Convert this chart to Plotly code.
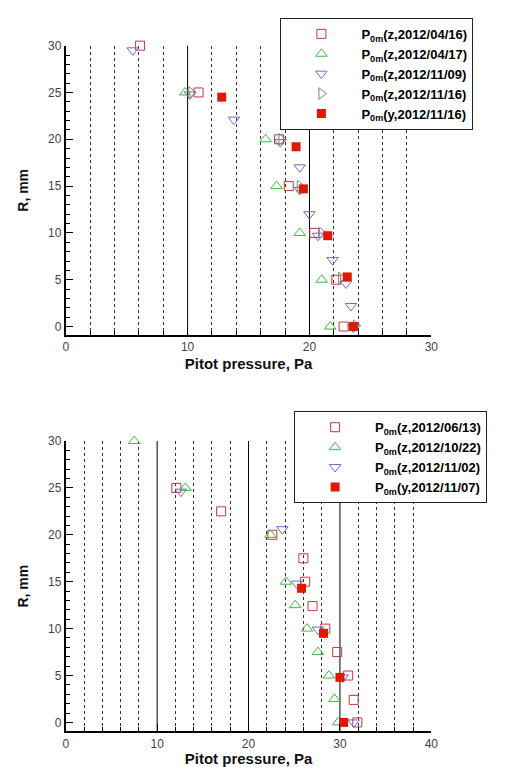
import plotly.graph_objects as go

# ---- Upper panel: x = Pitot pressure (Pa), y = R (mm) ----
a_labels = [
    "P<sub>0m</sub>(z,2012/04/16)",
    "P<sub>0m</sub>(z,2012/04/17)",
    "P<sub>0m</sub>(z,2012/11/09)",
    "P<sub>0m</sub>(z,2012/11/16)",
    "P<sub>0m</sub>(y,2012/11/16)",
]
a1_p = [6.1, 10.9, 17.5, 18.3, 20.4, 22.2, 22.8]
a1_r = [30.0, 25.0, 20.0, 15.0, 10.0, 5.0, 0.0]
a2_p = [9.8, 16.4, 17.3, 19.2, 21.0, 21.7]
a2_r = [25.0, 20.0, 15.0, 10.0, 5.0, 0.0]
a3_p = [5.5, 10.2, 13.8, 17.6, 19.2, 19.2, 20.0, 20.7, 21.9, 23.0, 23.4, 23.6]
a3_r = [29.5, 24.8, 22.1, 19.7, 17.0, 14.6, 12.0, 9.7, 7.1, 4.6, 2.2, -0.1]
a4_p = [10.3, 17.7, 19.2, 21.0, 22.6, 23.8]
a4_r = [25.0, 20.0, 15.0, 10.0, 5.2, 0.1]
a5_p = [12.8, 18.9, 19.5, 21.5, 23.1, 23.6]
a5_r = [24.5, 19.2, 14.7, 9.7, 5.3, 0.0]

# ---- Lower panel ----
b_labels = [
    "P<sub>0m</sub>(z,2012/06/13)",
    "P<sub>0m</sub>(z,2012/10/22)",
    "P<sub>0m</sub>(z,2012/11/02)",
    "P<sub>0m</sub>(y,2012/11/07)",
]
b1_p = [12.1, 17.0, 22.6, 26.0, 26.2, 27.0, 28.4, 29.7, 30.9, 31.5, 31.9]
b1_r = [25.0, 22.5, 20.0, 17.5, 15.0, 12.4, 10.0, 7.5, 5.0, 2.4, 0.0]
b2_p = [7.5, 13.1, 22.4, 24.1, 25.1, 26.4, 27.6, 28.8, 29.4, 29.8]
b2_r = [30.0, 25.0, 20.0, 15.0, 12.5, 10.0, 7.5, 5.0, 2.5, 0.0]
b3_p = [12.6, 23.7, 25.3, 27.6, 30.3, 31.5]
b3_r = [24.6, 20.6, 14.8, 9.9, 4.8, 0.0]
b4_p = [25.8, 28.2, 30.0, 30.4]
b4_r = [14.3, 9.5, 4.8, 0.0]

RED_OPEN = "#c23a3a"
GREEN = "#3dbb3d"
BLUE = "#6a6acb"
GRAY = "#808080"
RED_FILL = "#dd1a00"

FONT = "Liberation Sans, Arial, Helvetica, sans-serif"

fig = go.Figure()


def add(px, ry, name, symbol, color, size, xa, ya, legend):
    filled = not symbol.endswith("-open")
    fig.add_trace(go.Scatter(
        x=px, y=ry, mode="markers", name=name,
        xaxis=xa, yaxis=ya, legend=legend, cliponaxis=False,
        marker=dict(symbol=symbol, size=size, color=color,
                    line=dict(color=color, width=0 if filled else 1)),
    ))


add(a1_p, a1_r, a_labels[0], "square-open", RED_OPEN, 9, "x", "y", "legend")
add(a2_p, a2_r, a_labels[1], "triangle-up-open", GREEN, 10, "x", "y", "legend")
add(a3_p, a3_r, a_labels[2], "triangle-down-open", BLUE, 10, "x", "y", "legend")
add(a4_p, a4_r, a_labels[3], "triangle-right-open", GRAY, 10, "x", "y", "legend")
add(a5_p, a5_r, a_labels[4], "square", RED_FILL, 9, "x", "y", "legend")

add(b1_p, b1_r, b_labels[0], "square-open", RED_OPEN, 9, "x2", "y2", "legend2")
add(b2_p, b2_r, b_labels[1], "triangle-up-open", GREEN, 10, "x2", "y2", "legend2")
add(b3_p, b3_r, b_labels[2], "triangle-down-open", BLUE, 10, "x2", "y2", "legend2")
add(b4_p, b4_r, b_labels[3], "square", RED_FILL, 9, "x2", "y2", "legend2")

W, H = 505, 767


def fx(px):
    return px / W


def fy(py):
    return 1 - py / H


tickfont = dict(family=FONT, size=12, color="#444444")
xtitlefont = dict(family=FONT, size=15, color="#111111", weight="bold")
ytitlefont = dict(family=FONT, size=14, color="#111111", weight="bold")


def xaxis(rng, anchor):
    return dict(
        range=rng, domain=[fx(64), fx(437)], anchor=anchor,
        showline=True, linecolor="black", linewidth=2,
        ticks="inside", ticklen=7, tickwidth=1, tickcolor="black",
        dtick=10, tick0=0, showgrid=False, zeroline=False,
        tickfont=tickfont,
        minor=dict(dtick=2, tick0=0, ticks="inside", ticklen=4, tickcolor="black",
                   showgrid=True, gridcolor="#333333", griddash="dot", gridwidth=1),
        title=dict(text="Pitot pressure, Pa", font=xtitlefont, standoff=5),
    )


def yaxis(rng, domain, anchor):
    return dict(
        range=rng, domain=domain, anchor=anchor,
        showline=True, linecolor="black", linewidth=2,
        ticks="inside", ticklen=7, tickwidth=1, tickcolor="black",
        dtick=5, tick0=0, showgrid=False, zeroline=False,
        tickfont=tickfont,
        minor=dict(dtick=1, tick0=0, ticks="inside", ticklen=4, tickcolor="black",
                   showgrid=False),
        title=dict(text="R, mm", font=ytitlefont, standoff=16),
    )


legend_style = dict(
    bgcolor="white", bordercolor="#222222", borderwidth=1,
    font=dict(family=FONT, size=13, color="black", weight="bold"),
    xanchor="left", yanchor="top", tracegroupgap=0, itemwidth=70,
)

fig.update_layout(
    width=W, height=H,
    margin=dict(l=0, r=0, t=0, b=0),
    paper_bgcolor="white", plot_bgcolor="white",
    showlegend=True,
    xaxis=xaxis([0, 30], "y"),
    yaxis=yaxis([-0.9, 30], [fy(331), fy(39)], "x"),
    xaxis2=xaxis([0, 40], "y2"),
    yaxis2=yaxis([-0.95, 30], [fy(731), fy(438)], "x2"),
    legend=dict(x=fx(283), y=fy(11), **legend_style),
    legend2=dict(x=fx(297), y=fy(408), **legend_style),
)

# Solid reference lines at every 10 Pa
for xv in [10, 20]:
    fig.add_shape(type="line", xref="x", yref="y domain", x0=xv, x1=xv, y0=0, y1=1,
                  line=dict(color="black", width=1), layer="below")
for xv in [10, 20, 30]:
    fig.add_shape(type="line", xref="x2", yref="y2 domain", x0=xv, x1=xv, y0=0, y1=1,
                  line=dict(color="black", width=1), layer="below")

fig.write_html("out.html")
